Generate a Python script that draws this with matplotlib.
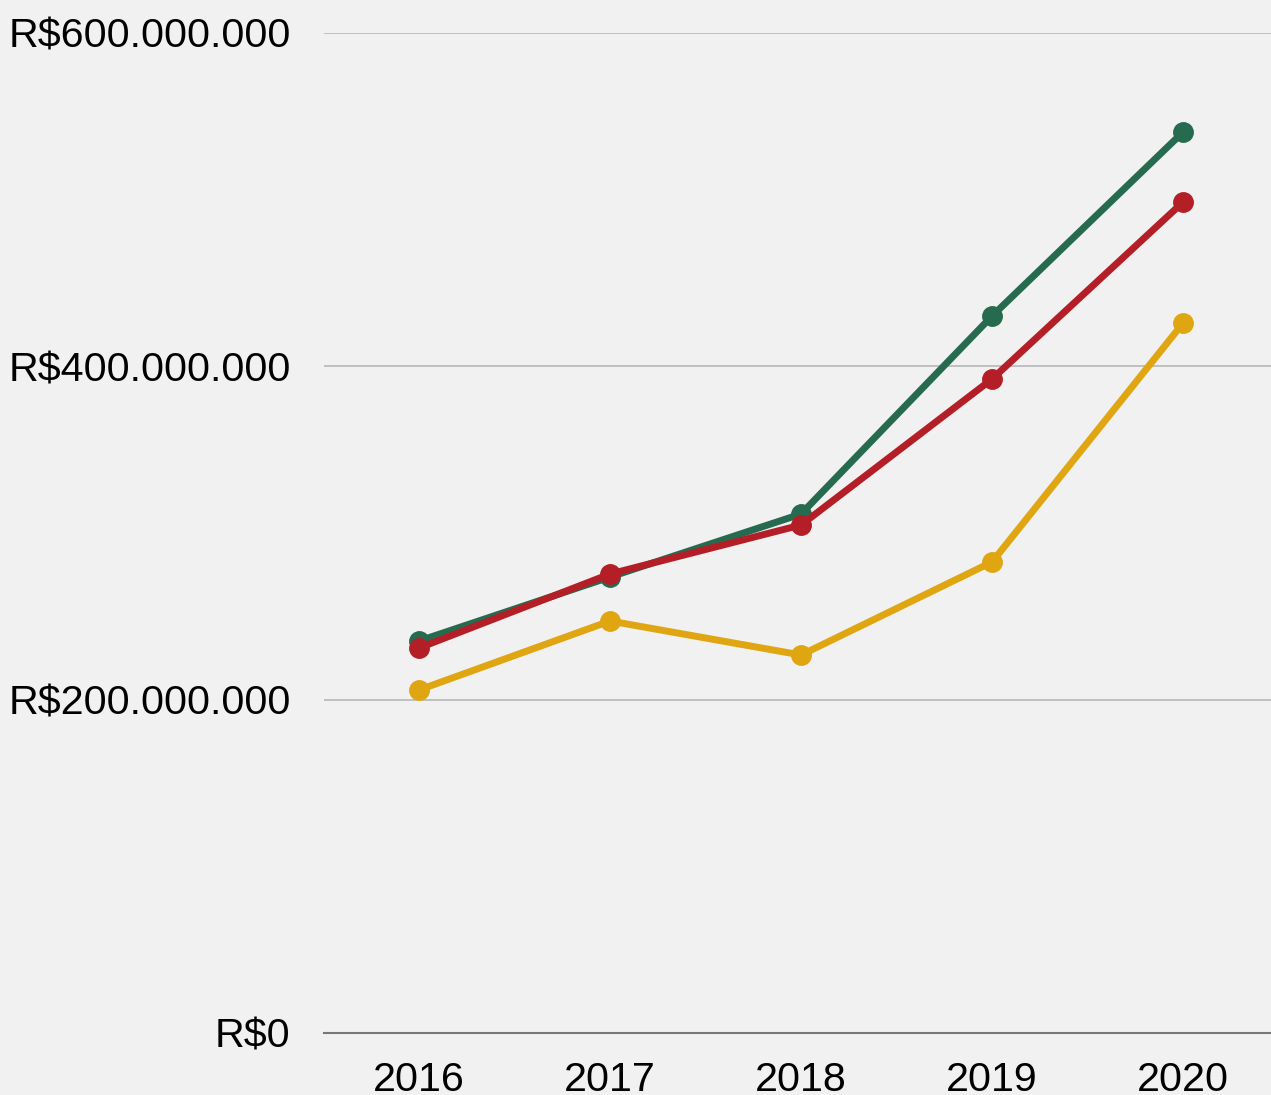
import matplotlib.pyplot as plt
import matplotlib.ticker as mticker

plt.rcParams['font.family'] = ['Liberation Sans', 'DejaVu Sans']

years = ['2016', '2017', '2018', '2019', '2020']
green_vals = [235.2e6, 273.6e6, 311.4e6, 430.2e6, 540.6e6]
red_vals = [231.0e6, 275.4e6, 304.8e6, 392.4e6, 498.6e6]
yellow_vals = [205.8e6, 247.2e6, 226.8e6, 282.6e6, 426.0e6]
y_ticks = [0, 200e6, 400e6, 600e6]

bg = '#f1f1f1'
fig = plt.figure(figsize=(12.71, 10.95), dpi=100, facecolor=bg)
ax = fig.add_axes([324 / 1271, 1 - 1033 / 1095, 1 - 324 / 1271, 1000 / 1095])
ax.set_facecolor(bg)

x = list(range(len(years)))
for vals, color in [(yellow_vals, '#e0a611'), (green_vals, '#266b4f'), (red_vals, '#b41f27')]:
    ax.plot(x, vals, color=color, lw=5, marker='o', ms=14, zorder=3,
            solid_capstyle='round', clip_on=False)

ax.set_xlim(-0.497, 4.46)
ax.set_ylim(0, 600e6)
ax.set_xticks(x)
ax.set_xticklabels(years)
ax.set_yticks(y_ticks)

def brl(v, pos):
    if v == 0:
        return 'R$0'
    return 'R$' + f'{int(v):,}'.replace(',', '.')

ax.yaxis.set_major_formatter(mticker.FuncFormatter(brl))
ax.grid(axis='y', color='#bbbbbb', lw=1.3, zorder=0)
for s in ['top', 'right', 'left']:
    ax.spines[s].set_visible(False)
ax.spines['bottom'].set_color('#777777')
ax.spines['bottom'].set_linewidth(1.5)
ax.tick_params(axis='both', length=0, labelsize=29.7, colors='black')
ax.tick_params(axis='y', pad=24)
ax.tick_params(axis='x', pad=20)

fig.savefig('out.png', dpi=100, facecolor=bg)
